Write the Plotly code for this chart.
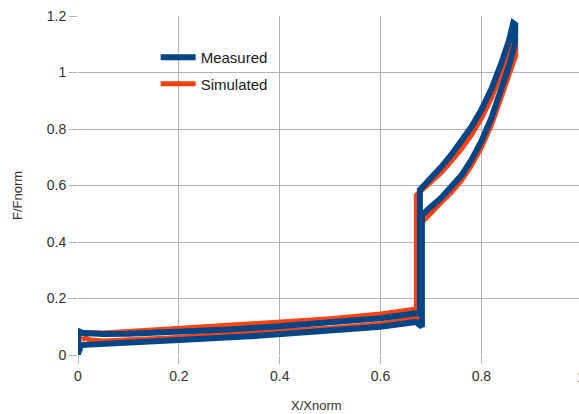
import plotly.graph_objects as go

# Measured loop (loading along upper path, unloading along lower path)
meas_x = [0.000, 0.000, 0.010, 0.050, 0.100, 0.200, 0.300, 0.400, 0.500, 0.600, 0.670, 0.678,
          0.678, 0.700, 0.720, 0.740, 0.760, 0.780, 0.800, 0.820, 0.840, 0.855, 0.863, 0.867,
          0.867, 0.866, 0.855, 0.840, 0.820, 0.800, 0.780, 0.760, 0.740, 0.720, 0.700, 0.682,
          0.682, 0.676, 0.670, 0.600, 0.500, 0.400, 0.340, 0.200, 0.100, 0.050, 0.020, 0.005, 0.002]
meas_y = [0.000, 0.085, 0.078, 0.074, 0.075, 0.080, 0.090, 0.102, 0.114, 0.130, 0.148, 0.150,
          0.584, 0.625, 0.665, 0.708, 0.755, 0.807, 0.868, 0.942, 1.035, 1.115, 1.175, 1.170,
          1.150, 1.100, 1.025, 0.940, 0.840, 0.757, 0.690, 0.635, 0.592, 0.556, 0.525, 0.495,
          0.100, 0.108, 0.117, 0.100, 0.086, 0.075, 0.066, 0.053, 0.046, 0.042, 0.038, 0.035, 0.010]

# Simulated loop
sim_x = [0.002, 0.003, 0.010, 0.050, 0.180, 0.340, 0.500, 0.600, 0.671,
         0.671, 0.690, 0.720, 0.740, 0.760, 0.780, 0.800, 0.820, 0.840, 0.855, 0.868,
         0.868, 0.855, 0.840, 0.820, 0.800, 0.780, 0.760, 0.740, 0.720, 0.700, 0.685, 0.673,
         0.673, 0.600, 0.500, 0.340, 0.180, 0.050, 0.025, 0.015, 0.008]
sim_y = [0.045, 0.080, 0.080, 0.078, 0.092, 0.108, 0.128, 0.145, 0.163,
         0.566, 0.595, 0.645, 0.685, 0.728, 0.778, 0.838, 0.910, 1.000, 1.075, 1.125,
         1.060, 0.990, 0.910, 0.815, 0.735, 0.670, 0.617, 0.575, 0.540, 0.505, 0.475, 0.462,
         0.132, 0.110, 0.095, 0.079, 0.060, 0.050, 0.053, 0.060, 0.055]

x_ticks = [0, 0.2, 0.4, 0.6, 0.8]
x_labels = ["0", "0.2", "0.4", "0.6", "0.8"]
y_ticks = [0, 0.2, 0.4, 0.6, 0.8, 1.0, 1.2]
y_labels = ["0", "0.2", "0.4", "0.6", "0.8", "1", "1.2"]

BLUE = "#004586"
ORANGE = "#ff420e"
GRID = "#b3b3b3"
FONT = "Liberation Sans, Arial, sans-serif"

fig = go.Figure()
fig.add_trace(go.Scatter(x=sim_x, y=sim_y, mode="lines", name="Simulated",
                         line=dict(color=ORANGE, width=5), legendrank=2,
                         legendgroup="s"))
fig.add_trace(go.Scatter(x=meas_x, y=meas_y, mode="lines", name="Measured",
                         line=dict(color=BLUE, width=6), legendrank=1,
                         legendgroup="m"))

fig.update_layout(
    width=579, height=414,
    margin=dict(l=78, r=0, t=16, b=59),
    paper_bgcolor="white", plot_bgcolor="white",
    font=dict(family=FONT, size=14, color="#333333"),
    showlegend=True,
    legend=dict(x=0.155, y=0.926, xanchor="left", yanchor="top",
                bgcolor="rgba(0,0,0,0)", font=dict(size=15, color="#1a1a1a"),
                tracegroupgap=4, traceorder="grouped", itemwidth=35),
    xaxis=dict(range=[0, 0.9935], tickvals=x_ticks, ticktext=x_labels,
               showgrid=True, gridcolor=GRID, gridwidth=1, zeroline=False,
               showline=False, ticks="outside", ticklen=8, tickcolor=GRID,
               tickfont=dict(size=14, color="#333333")),
    yaxis=dict(range=[0, 1.2], tickvals=y_ticks, ticktext=y_labels,
               showgrid=True, gridcolor=GRID, gridwidth=1, zeroline=False,
               showline=False, ticks="outside", ticklen=8, tickcolor=GRID,
               tickfont=dict(size=14, color="#333333")),
    annotations=[
        dict(text="1", xref="paper", yref="paper", x=1.004,
             y=-(377 - 355) / 339,
             xanchor="center", yanchor="middle", showarrow=False,
             font=dict(size=14, color="#333333")),
        dict(text="X/Xnorm", xref="paper", yref="paper", x=(316 - 78) / 501,
             y=-(405 - 355) / 339,
             xanchor="center", yanchor="middle", showarrow=False,
             font=dict(size=13, color="#333333")),
        dict(text="F/Fnorm", xref="paper", yref="paper", x=(18 - 78) / 501,
             y=(355 - 196) / 339, xanchor="center", yanchor="middle",
             textangle=-90, showarrow=False,
             font=dict(size=13, color="#333333")),
    ],
)

fig.write_html("out.html", config={"displayModeBar": False},
               post_script="document.body.style.margin='0';document.body.style.overflow='hidden';")
